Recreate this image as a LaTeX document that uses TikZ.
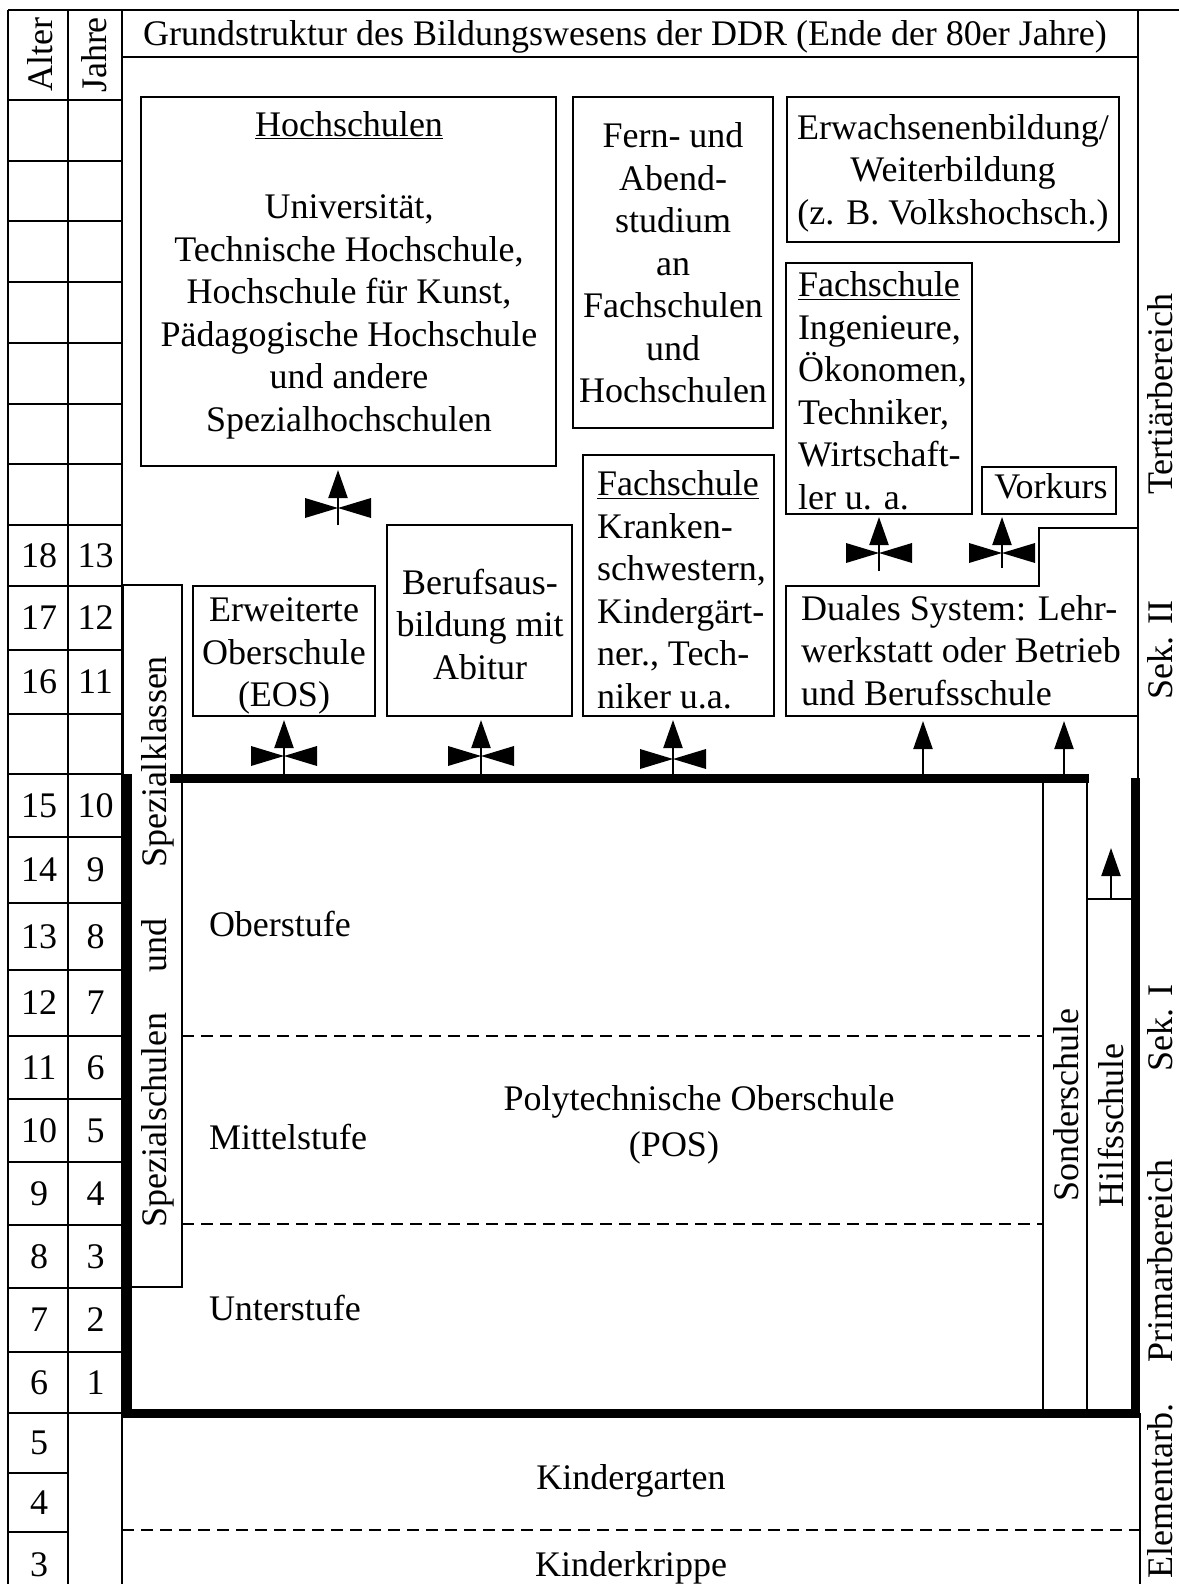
\documentclass[tikz,border=0pt]{standalone}
\usepackage{fontspec}
\setmainfont{Liberation Serif}
\usetikzlibrary{arrows.meta}
\begin{document}
\begin{tikzpicture}[x=1pt,y=-1pt,
  every node/.style={font=\fontsize{36}{42.5}\selectfont, inner sep=0pt, outer sep=0pt},
  rule/.style={line width=2pt},
  heavy/.style={line width=9pt},
  dashline/.style={line width=2.2pt, dash pattern=on 12pt off 7pt},
  box/.style={draw, line width=2pt, anchor=north west},
  upar/.style={line width=2.2pt, -{Triangle[length=28pt,width=19pt]}},
  vert/.style={rotate=90, anchor=base},
  bowtie/.pic={\fill (-33,-10) -- (-33,10) -- (0,0) -- cycle;
               \fill (33,-10) -- (33,10) -- (0,0) -- cycle;}
]
\useasboundingbox (0,0) rectangle (1179,1584);

% ---------- outer frame and left columns ----------
\draw[rule] (8,10) -- (1179,10);
\draw[rule] (8,10) -- (8,1600);
\draw[rule] (68,10) -- (68,1600);
\draw[rule] (122,10) -- (122,1600);
\draw[rule] (122,57) -- (1138,57);
\draw[rule] (1138,10) -- (1138,778);
\draw[rule] (1140,1413) -- (1140,1600);
\foreach \yy in {100,161,221,282,343,404,464,525,586,650,714,774,837,903,970,1036,1099,1162,1225,1288,1352,1413}
  \draw[rule] (8,\yy) -- (122,\yy);
\foreach \yy in {1473,1532}
  \draw[rule] (8,\yy) -- (68,\yy);

\node[vert] (alter) at (52,55) {Alter};
\node[vert] (jahre) at (106,55) {Jahre};

\foreach \yy/\a/\j in {555.5/18/13, 618/17/12, 682/16/11, 805.5/15/10, 870/14/9, 936.5/13/8, 1003/12/7, 1067.5/11/6, 1130.5/10/5, 1193.5/9/4, 1256.5/8/3, 1320/7/2, 1382.5/6/1}
  {\node (age\a) at (39,\yy) {\a}; \node (yr\j) at (95.5,\yy) {\j};}
\node (age5) at (39,1443) {5};
\node (age4) at (39,1502.5) {4};
\node (age3) at (39,1565) {3};

% ---------- title ----------
\node[anchor=base] (title) at (625,46) {Grundstruktur des Bildungswesens der DDR (Ende der 80er Jahre)};

% ---------- boxes ----------
\node[box, minimum width=415, minimum height=369] (hoch) at (141,97) {};
\node[box, minimum width=200, minimum height=331] (fern) at (573,97) {};
\node[box, minimum width=332, minimum height=145] (erw) at (787,97) {};
\node[box, minimum width=186, minimum height=251] (ing) at (786,263) {};
\node[box, minimum width=134, minimum height=47] (vork) at (982,467) {};
\node[box, minimum width=191, minimum height=261] (kran) at (583,455) {};
\node[box, minimum width=185, minimum height=191] (beruf) at (387,525) {};
\node[box, minimum width=182, minimum height=130] (eos) at (193,586) {};
\node[box, minimum width=59, minimum height=702] (spez) at (123,585) {};
\draw[rule] (786,586) -- (1039,586) -- (1039,528) -- (1138,528) -- (1138,716) -- (786,716) -- cycle;
\coordinate (dualbot) at (786,716);

% ---------- box texts ----------
\node[align=center] (hochtxt) at (349,275) {\underline{Hochschulen}\\[40pt]Universität,\\Technische Hochschule,\\Hochschule für Kunst,\\Pädagogische Hochschule\\und andere\\Spezialhochschulen};
\node[align=center] (ferntxt) at (673,263) {Fern- und\\Abend-\\studium\\an\\Fachschulen\\und\\Hochschulen};
\node[align=center] (erwtxt) at (953,173) {Erwachsenenbildung/\\Weiterbildung\\(z. B. Volkshochsch.)};
\node[align=left, anchor=west] (ingtxt) at (798,391) {\underline{Fachschule}\\Ingenieure,\\Ökonomen,\\Techniker,\\Wirtschaft-\\ler u. a.};
\node[anchor=base] (vorktxt) at (1051,498) {Vorkurs};
\node[align=left, anchor=west] (krantxt) at (597,590) {\underline{Fachschule}\\Kranken-\\schwestern,\\Kindergärt-\\ner., Tech-\\niker u.a.};
\node[align=center] (beruftxt) at (480,624) {Berufsaus-\\bildung mit\\Abitur};
\node[align=center] (eostxt) at (284,656) {Erweiterte\\Oberschule\\(EOS)};
\node[align=left, anchor=west] (dualtxt) at (801,650.5) {Duales System: Lehr-\\werkstatt oder Betrieb\\und Berufsschule};

\node[vert] (spezk) at (166,762) {Spezialklassen};
\node[vert] (spezu) at (166,945) {und};
\node[vert] (spezs) at (166,1120) {Spezialschulen};

% ---------- POS block ----------
\draw[heavy] (170,778) -- (1089,778);
\draw[heavy] (127,774) -- (127,1417.5);
\draw[heavy] (122.5,1413) -- (1140,1413);
\draw[heavy] (1135.5,778) -- (1135.5,1417.5);
\draw[rule] (1043,778) -- (1043,1413);
\draw[rule] (1087,778) -- (1087,1413);
\draw[rule] (1087,899) -- (1135,899);
\draw[dashline] (182,1036) -- (1043,1036);
\draw[dashline] (182,1224) -- (1043,1224);
\draw[dashline] (122,1530) -- (1140,1530);

\node[anchor=base west] (ober) at (209,936) {Oberstufe};
\node[anchor=base west] (mittel) at (209,1149) {Mittelstufe};
\node[anchor=base west] (unter) at (209,1320) {Unterstufe};
\node[anchor=base] (pos1) at (699,1110) {Polytechnische Oberschule};
\node[anchor=base] (pos2) at (674,1156) {(POS)};
\node[vert] (sonder) at (1078,1105) {Sonderschule};
\node[vert] (hilf) at (1123,1125) {Hilfsschule};

\node[anchor=base] (kg) at (631,1489) {Kindergarten};
\node[anchor=base] (kk) at (631,1576) {Kinderkrippe};

% ---------- right labels ----------
\node[vert] (tert) at (1172,394) {Tertiärbereich};
\node[vert] (sek2) at (1172,650) {Sek. II};
\node[vert] (sek1) at (1172,1028) {Sek. I};
\node[vert] (prim) at (1172,1261) {Primarbereich};
\node[vert] (elem) at (1172,1491) {Elementarb.};

% ---------- arrows ----------
\coordinate (vh) at (338,525);
\coordinate (ve) at (284,776);
\coordinate (vb) at (481,776);
\coordinate (vk) at (673,776);
\coordinate (vi) at (879,571);
\coordinate (vv) at (1002,568);
\draw[upar, shorten >=4pt] (vh) -- (vh |- hoch.south);
\draw[upar, shorten >=4pt] (ve) -- (ve |- eos.south);
\draw[upar, shorten >=4pt] (vb) -- (vb |- beruf.south);
\draw[upar, shorten >=4pt] (vk) -- (vk |- kran.south);
\draw[upar, shorten >=3pt] (vi) -- (vi |- ing.south);
\draw[upar, shorten >=3pt] (vv) -- (vv |- vork.south);
\pic at (338,508) {bowtie};
\pic at (284,756) {bowtie};
\pic at (481,756) {bowtie};
\pic at (673,759) {bowtie};
\pic at (879,553) {bowtie};
\pic at (1002,553) {bowtie};

\coordinate (d1) at (923,774);
\coordinate (d2) at (1064,774);
\draw[upar, shorten >=5pt] (d1) -- (d1 |- dualbot);
\draw[upar, shorten >=5pt] (d2) -- (d2 |- dualbot);
\coordinate (hb) at (1111,899);
\coordinate (ht) at (1111,848);
\draw[upar] (hb) -- (ht);
\end{tikzpicture}
\end{document}
